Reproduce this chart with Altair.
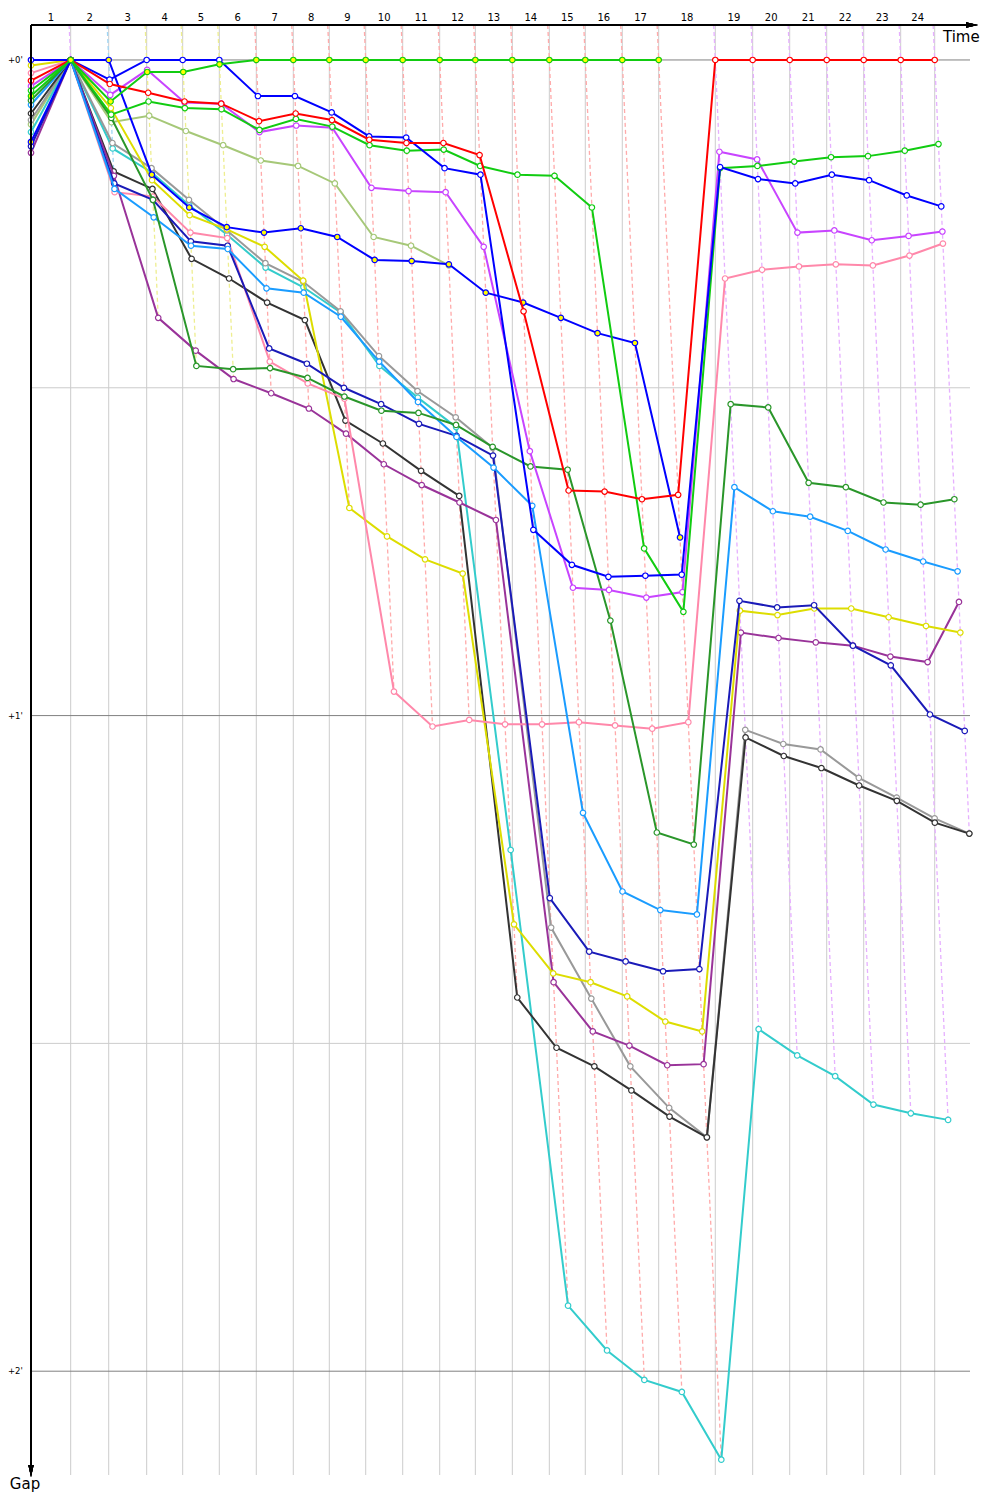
import altair as alt
import pandas as pd

# Leader's elapsed race time (s) at the end of each lap; index 0 is the start
leader_time = [0, 81.2, 159.0, 236.7, 310.4, 385.3, 461.0, 536.7, 610.4, 684.9,
               760.6, 836.3, 909.2, 984.9, 1060.6, 1134.2, 1209.9, 1284.4,
               1400.2, 1476.7, 1552.5, 1628.2, 1703.9, 1779.6, 1849.2]

lap_labels = [str(i) for i in range(1, 25)]

# Gap to the leader (s) at the end of each lap, one list per car
gap_green = [3.3, 0, 3.8, 1.1, 1.1, 0.4, 0, 0, 0, 0, 0, 0, 0, 0, 0, 0, 0, 0]
gap_red = [1.9, 0, 2.2, 3.0, 3.8, 4.0, 5.6, 4.9, 5.5, 7.3, 7.6, 7.6, 8.7, 23.0,
           39.4, 39.5, 40.2, 39.8, 0, 0, 0, 0, 0, 0, 0]
gap_blue = [0, 0, 1.8, 0, 0, 0, 3.3, 3.3, 4.8, 7.0, 7.1, 9.9, 10.5, 43.0, 46.2,
            47.3, 47.2, 47.1, 9.8, 10.9, 11.3, 10.5, 11.0, 12.4, 13.4]
gap_blue_y = [7.5, 0, 0, 10.5, 13.5, 15.3, 15.8, 15.4, 16.2, 18.3, 18.4, 18.7,
              21.3, 22.2, 23.6, 25.0, 25.9, 43.7]
gap_lime = [2.8, 0, 5.0, 3.8, 4.4, 4.5, 6.4, 5.4, 6.1, 7.8, 8.3, 8.2, 9.7, 10.5,
            10.6, 13.5, 44.7, 50.5, 9.9, 9.7, 9.3, 8.9, 8.8, 8.3, 7.7]
gap_violet = [2.4, 0, 3.2, 0.9, 3.9, 4.0, 6.6, 6.0, 6.2, 11.7, 12.0, 12.1, 17.1,
              35.8, 48.3, 48.5, 49.2, 48.7, 8.4, 9.1, 15.8, 15.6, 16.5, 16.1, 15.7]
gap_olive = [5.9, 0, 5.7, 5.1, 6.5, 7.8, 9.2, 9.7, 11.3, 16.2, 17.0, 18.8]
gap_forest = [3.7, 0, 5.3, 12.8, 28.0, 28.3, 28.2, 29.1, 30.8, 32.1, 32.3, 33.4,
              35.4, 37.2, 37.5, 51.3, 70.7, 71.8, 31.5, 31.8, 38.7, 39.1, 40.5,
              40.7, 40.2]
gap_navy = [7.9, 0, 11.3, 12.8, 16.6, 17.0, 26.4, 27.8, 30.0, 31.5, 33.3, 34.4,
            36.2, 76.7, 81.6, 82.5, 83.4, 83.2, 49.5, 50.1, 49.9, 53.6, 55.4,
            59.9, 61.4]
gap_sky = [4.1, 0, 11.8, 14.4, 17.0, 17.3, 20.9, 21.3, 23.5, 27.6, 31.3, 34.5,
           37.3, 40.8, 68.9, 76.1, 77.8, 78.2, 39.1, 41.3, 41.8, 43.1, 44.8,
           45.9, 46.8]
gap_teal = [6.6, 0, 8.1, 10.3, 13.3, 16.0, 19.0, 20.8, 23.1, 28.0, 30.9, 33.6,
            72.3, 114.0, 118.1, 120.8, 121.9, 128.1, 88.7, 91.1, 93.0, 95.6,
            96.4, 97.0]
gap_grey = [5.5, 0, 7.6, 9.9, 12.8, 15.6, 18.6, 20.3, 23.0, 27.1, 30.3, 32.7,
            35.5, 79.4, 85.9, 92.1, 95.9, 98.6, 61.3, 62.6, 63.1, 65.7, 67.5,
            69.4, 70.8]
gap_black = [4.9, 0, 10.2, 11.8, 18.2, 20.0, 22.2, 23.8, 33.0, 35.1, 37.6, 39.9,
             85.8, 90.4, 92.1, 94.3, 96.7, 98.6, 62.0, 63.7, 64.8, 66.4, 67.8,
             69.8, 70.8]
gap_yellow = [0.5, 0, 4.4, 11.0, 14.2, 15.5, 17.1, 20.2, 41.0, 43.6, 45.7, 47.0,
              79.1, 83.6, 84.4, 85.7, 88.0, 88.9, 50.4, 50.8, 50.2, 50.2, 51.0,
              51.8, 52.4]
gap_pink = [1.2, 0, 12.1, 12.5, 15.8, 16.3, 27.6, 29.6, 31.0, 57.8, 61.0, 60.4,
            60.8, 60.8, 60.6, 60.9, 61.2, 60.6, 20.0, 19.2, 18.9, 18.7, 18.8,
            17.9, 16.8]
gap_purple = [8.5, 0, 10.6, 23.6, 26.6, 29.2, 30.5, 31.9, 34.2, 37.0, 38.9, 40.5,
              42.1, 84.4, 88.9, 90.2, 92.0, 91.9, 52.4, 52.9, 53.3, 53.6, 54.6,
              55.1, 49.6]

# (line colour, marker fill, gaps) in drawing order, bottom to top
cars = [
    ("#a6c878", "white", gap_olive),
    ("#33cccc", "white", gap_teal),
    ("#999999", "white", gap_grey),
    ("#333333", "white", gap_black),
    ("#993399", "white", gap_purple),
    ("#dddd00", "white", gap_yellow),
    ("#ff88aa", "white", gap_pink),
    ("#1a1ab8", "white", gap_navy),
    ("#1a9cff", "white", gap_sky),
    ("#2a962a", "white", gap_forest),
    ("#c844ff", "white", gap_violet),
    ("#0000ff", "#ffff00", gap_blue_y),
    ("#11cc11", "white", gap_lime),
    ("#0000ff", "white", gap_blue),
    ("#ff0000", "white", gap_red),
    ("#11cc11", "#ffff00", gap_green),
]

# colour of the per-lap marker line (laps 1..24)
lap_marker_colors = (["#e6b0ff", "#a0d6f5"] + ["#eeee90"] * 3
                     + ["#ffaaaa"] * 12 + ["#e6b0ff"] * 7)

grid_gaps = [0, 30, 60, 90, 120]
grid_colors = ["#808080", "#cccccc", "#808080", "#cccccc", "#808080"]
grid_labels = ["+0'", "", "+1'", "", "+2'"]

W, H = 939, 1450
GAP_TOP, GAP_BOTTOM = -3.2, 129.5
x_scale = alt.Scale(domain=[0, 1921.4], nice=False, zero=False)
y_scale = alt.Scale(domain=[GAP_TOP, GAP_BOTTOM], reverse=True, nice=False, zero=False)


def X(field):
    return alt.X(f"{field}:Q", scale=x_scale, axis=None)


def Y(field):
    return alt.Y(f"{field}:Q", scale=y_scale, axis=None)


layers = []

# vertical grid at each lap end of the leader
vgrid = pd.DataFrame({"t": leader_time[1:]})
layers.append(alt.Chart(vgrid).mark_rule(color="#cccccc", strokeWidth=1).encode(x=X("t")))

# horizontal gap lines
hgrid = pd.DataFrame({"g": grid_gaps, "c": grid_colors, "label": grid_labels})
layers.append(alt.Chart(hgrid).mark_rule(strokeWidth=1).encode(
    y=Y("g"), color=alt.Color("c:N", scale=None)))
layers.append(alt.Chart(hgrid).transform_filter("datum.label != ''").mark_text(
    align="left", baseline="middle", fontSize=8.5, font="DejaVu Sans", color="black"
).encode(y=Y("g"), x=alt.value(-23), text="label:N"))

# lap numbers centred over each lap interval
laps = pd.DataFrame({
    "mid": [(leader_time[i - 1] + leader_time[i]) / 2 for i in range(1, 25)],
    "label": lap_labels,
})
layers.append(alt.Chart(laps).mark_text(
    baseline="alphabetic", align="center", fontSize=10, font="DejaVu Sans", color="black"
).encode(x=X("mid"), y=alt.value(-4), text="label:N"))

# per-lap marker: from the leader's crossing down to the last car of that lap
rows = []
for k in range(1, 25):
    gmax = max(c[2][k] for c in cars if len(c[2]) > k)
    col = lap_marker_colors[k - 1]
    rows.append({"lap": k, "pt": 0, "t": leader_time[k] + GAP_TOP, "g": GAP_TOP, "c": col})
    rows.append({"lap": k, "pt": 1, "t": leader_time[k] + gmax, "g": gmax, "c": col})
markers = pd.DataFrame(rows)
layers.append(alt.Chart(markers).mark_line(strokeDash=[4, 3], strokeWidth=1.3).encode(
    x=X("t"), y=Y("g"), detail="lap:N", order="pt:Q", color=alt.Color("c:N", scale=None)))

# one line with markers per car; x = leader's time + own gap
for color, fill, gaps in cars:
    df = pd.DataFrame({"lap": list(range(len(gaps))), "gap": gaps})
    df["t"] = [leader_time[i] + (g if i > 0 else 0) for i, g in zip(df["lap"], df["gap"])]
    base = alt.Chart(df)
    layers.append(base.mark_line(color=color, strokeWidth=2).encode(
        x=X("t"), y=Y("gap"), order="lap:Q"))
    layers.append(base.mark_point(shape="circle", filled=True, fill=fill, stroke=color,
                                  strokeWidth=1.2, size=30, opacity=1).encode(
        x=X("t"), y=Y("gap")))

# axes with arrow heads
layers.append(alt.Chart(hgrid).mark_rule(color="black", strokeWidth=1.5).encode(
    x=alt.value(0), x2=alt.value(941), y=alt.value(0)))
layers.append(alt.Chart(hgrid).mark_rule(color="black", strokeWidth=1.5).encode(
    x=alt.value(0), y=alt.value(0), y2=alt.value(1446)))
layers.append(alt.Chart(hgrid).mark_point(
    shape="M-1,-0.45L1,0L-1,0.45Z", filled=True, color="black", size=144, opacity=1
).encode(x=alt.value(941), y=alt.value(0)))
layers.append(alt.Chart(hgrid).mark_point(
    shape="M-0.45,-1L0.45,-1L0,1Z", filled=True, color="black", size=144, opacity=1
).encode(x=alt.value(0), y=alt.value(1446)))

titles = pd.DataFrame({"txt": ["Time"]})
layers.append(alt.Chart(titles).mark_text(
    align="left", baseline="alphabetic", fontSize=15, font="DejaVu Sans", color="black"
).encode(x=alt.value(912), y=alt.value(17), text="txt:N"))
titles2 = pd.DataFrame({"txt": ["Gap"]})
layers.append(alt.Chart(titles2).mark_text(
    align="center", baseline="alphabetic", fontSize=15, font="DejaVu Sans", color="black"
).encode(x=alt.value(-6), y=alt.value(1464), text="txt:N"))

chart = alt.layer(*layers).properties(
    width=W, height=H,
    padding={"left": 31, "top": 25, "right": 30, "bottom": 25},
    autosize=alt.AutoSizeParams(type="none"),
).configure_view(strokeWidth=0)

chart.save("out.html", embed_options={"renderer": "svg", "actions": False})
